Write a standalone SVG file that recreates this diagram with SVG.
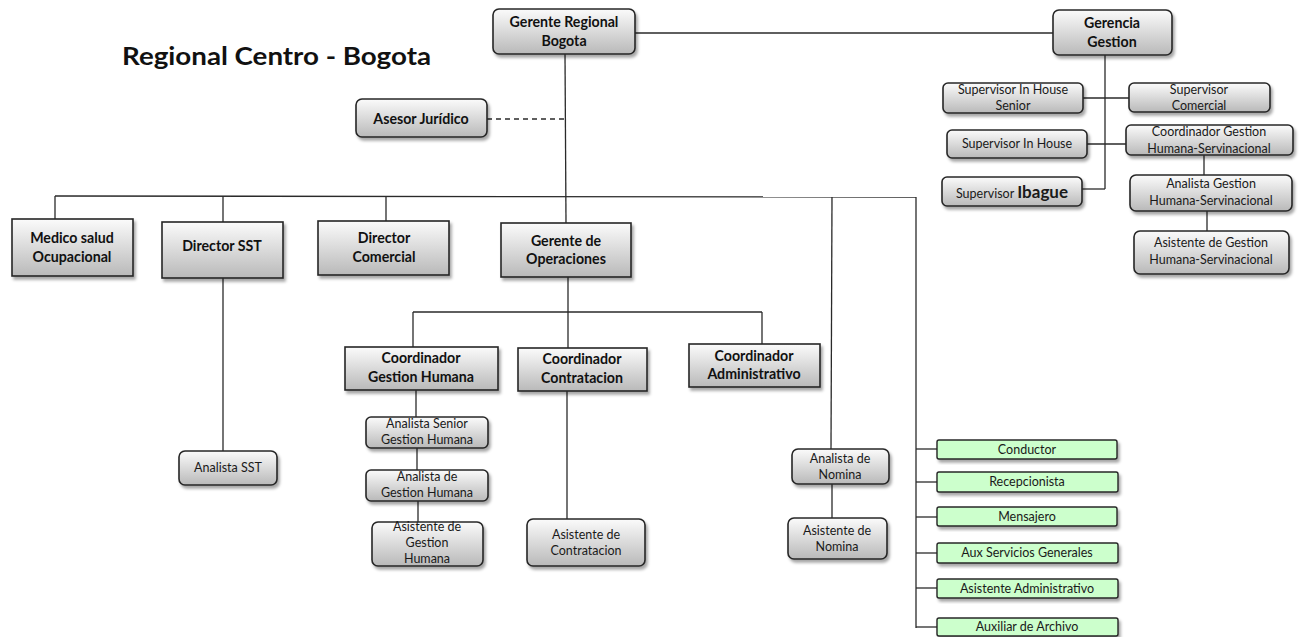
<svg xmlns="http://www.w3.org/2000/svg" width="1300" height="637" viewBox="0 0 1300 637">
<defs>
<linearGradient id="g" x1="0" y1="0" x2="0" y2="1">
<stop offset="0" stop-color="#fbfbfb"/>
<stop offset="1" stop-color="#b9b9b9"/>
</linearGradient>
<filter id="sh" x="-10%" y="-20%" width="125%" height="150%">
<feDropShadow dx="2" dy="3" stdDeviation="1.8" flood-color="#000" flood-opacity="0.35"/>
</filter>
<style>
.b{fill:url(#g);stroke:#262626;stroke-width:1.6;filter:url(#sh)}
.gr{fill:#ccffcc;stroke:#262626;stroke-width:1.4;filter:url(#sh)}
.t{font-family:Lato,"Liberation Sans",sans-serif;font-weight:bold;font-size:14.2px;fill:#111;text-anchor:middle}
.s{font-family:Lato,"Liberation Sans",sans-serif;font-size:12.5px;fill:#1a1a1a;text-anchor:middle}
.c line,.c path{stroke:#2a2a2a;stroke-width:1.3;fill:none}
.title{font-family:Lato,"Liberation Sans",sans-serif;font-weight:bold;font-size:25px;fill:#111}
</style>
</defs>
<rect width="1300" height="637" fill="#fff"/>
<text class="title" x="122" y="65" textLength="309" lengthAdjust="spacingAndGlyphs">Regional Centro - Bogota</text>

<g class="c" id="connectors">
<line x1="635" y1="33" x2="1053" y2="33"/>
<line x1="565" y1="54" x2="566" y2="223"/>
<line x1="487" y1="119" x2="565" y2="119" stroke-dasharray="5,4"/>
<line x1="55" y1="196" x2="916" y2="197"/>
<line x1="55" y1="196" x2="55" y2="219"/>
<line x1="223" y1="196" x2="223" y2="222"/>
<line x1="386" y1="197" x2="386" y2="221"/>
<line x1="832" y1="197" x2="831" y2="449"/>
<line x1="916" y1="197" x2="916" y2="628"/>
<line x1="223" y1="278" x2="223" y2="451"/>
<line x1="568" y1="277" x2="568" y2="348"/>
<line x1="413" y1="312" x2="762" y2="312"/>
<line x1="413" y1="312" x2="413" y2="347"/>
<line x1="762" y1="312" x2="762" y2="344"/>
<line x1="416" y1="390" x2="416" y2="417"/>
<line x1="417" y1="448" x2="417" y2="470"/>
<line x1="418" y1="501" x2="418" y2="522"/>
<line x1="567" y1="391" x2="567" y2="519"/>
<line x1="832" y1="484" x2="832" y2="518"/>
<line x1="916" y1="449" x2="937" y2="449"/>
<line x1="916" y1="482" x2="937" y2="482"/>
<line x1="916" y1="517" x2="937" y2="517"/>
<line x1="916" y1="553" x2="937" y2="553"/>
<line x1="916" y1="588" x2="937" y2="588"/>
<line x1="916" y1="627" x2="937" y2="627"/>
<line x1="1105" y1="55" x2="1105" y2="189"/>
<line x1="1082" y1="189" x2="1105" y2="189"/>
<line x1="1083" y1="98" x2="1129" y2="98"/>
<line x1="1087" y1="144" x2="1126" y2="144"/>
<line x1="1204" y1="155" x2="1204" y2="175"/>
<line x1="1207" y1="211" x2="1207" y2="231"/>
</g>

<g id="gerente-regional"><rect class="b" x="493" y="9" width="142" height="45" rx="6"/><text class="t" x="564" y="26.5">Gerente Regional</text><text class="t" x="564" y="45.5">Bogota</text></g>
<g id="gerencia-gestion"><rect class="b" x="1053" y="10" width="119" height="45" rx="6"/><text class="t" x="1112" y="27.5">Gerencia</text><text class="t" x="1112" y="46.5">Gestion</text></g>
<g id="asesor"><rect class="b" x="356" y="99" width="131" height="38" rx="6"/><text class="t" x="421" y="123.5">Asesor Jurídico</text></g>

<g id="medico"><rect class="b" x="12" y="219" width="121" height="57"/><text class="t" x="72" y="242.5">Medico salud</text><text class="t" x="72" y="261.5">Ocupacional</text></g>
<g id="director-sst"><rect class="b" x="162" y="222" width="121" height="56"/><text class="t" x="222" y="251">Director SST</text></g>
<g id="director-comercial"><rect class="b" x="318" y="221" width="131" height="54"/><text class="t" x="384" y="242.5">Director</text><text class="t" x="384" y="261.5">Comercial</text></g>
<g id="gerente-operaciones"><rect class="b" x="501" y="223" width="130" height="54"/><text class="t" x="566" y="245.5">Gerente de</text><text class="t" x="566" y="263.5">Operaciones</text></g>

<g id="coord-gh"><rect class="b" x="345" y="347" width="153" height="43"/><text class="t" x="421" y="362.5">Coordinador</text><text class="t" x="421" y="381.5">Gestion Humana</text></g>
<g id="coord-contratacion"><rect class="b" x="518" y="348" width="129" height="43"/><text class="t" x="582" y="363.5">Coordinador</text><text class="t" x="582" y="382.5">Contratacion</text></g>
<g id="coord-admin"><rect class="b" x="689" y="344" width="131" height="43"/><text class="t" x="754" y="360.5">Coordinador</text><text class="t" x="754" y="378.5">Administrativo</text></g>

<g id="analista-senior-gh"><rect class="b" x="366" y="417" width="122" height="31" rx="5"/><text class="s" x="427" y="428">Analista Senior</text><text class="s" x="427" y="444">Gestion Humana</text></g>
<g id="analista-gh"><rect class="b" x="366" y="470" width="122" height="31" rx="5"/><text class="s" x="427" y="481">Analista de</text><text class="s" x="427" y="497">Gestion Humana</text></g>
<g id="asistente-gh"><rect class="b" x="372" y="522" width="111" height="44" rx="6"/><text class="s" x="427" y="531">Asistente de</text><text class="s" x="427" y="547">Gestion</text><text class="s" x="427" y="563">Humana</text></g>
<g id="asistente-contratacion"><rect class="b" x="527" y="519" width="118" height="47" rx="6"/><text class="s" x="586" y="539">Asistente de</text><text class="s" x="586" y="555">Contratacion</text></g>
<g id="analista-sst"><rect class="b" x="179" y="451" width="98" height="34" rx="6"/><text class="s" x="228" y="472">Analista SST</text></g>
<g id="analista-nomina"><rect class="b" x="792" y="449" width="97" height="35" rx="6"/><text class="s" x="840" y="463">Analista de</text><text class="s" x="840" y="479">Nomina</text></g>
<g id="asistente-nomina"><rect class="b" x="788" y="518" width="99" height="41" rx="6"/><text class="s" x="837" y="535">Asistente de</text><text class="s" x="837" y="551">Nomina</text></g>

<g id="conductor"><rect class="gr" x="937" y="440" width="180" height="19" rx="2"/><text class="s" x="1027" y="453.5">Conductor</text></g>
<g id="recepcionista"><rect class="gr" x="937" y="472" width="181" height="20" rx="2"/><text class="s" x="1027" y="486">Recepcionista</text></g>
<g id="mensajero"><rect class="gr" x="937" y="507" width="180" height="19" rx="2"/><text class="s" x="1027" y="520.5">Mensajero</text></g>
<g id="aux-servicios"><rect class="gr" x="937" y="543" width="181" height="20" rx="2"/><text class="s" x="1027" y="557">Aux Servicios Generales</text></g>
<g id="asistente-admin"><rect class="gr" x="937" y="579" width="181" height="19" rx="2"/><text class="s" x="1027" y="592.5">Asistente Administrativo</text></g>
<g id="auxiliar-archivo"><rect class="gr" x="937" y="618" width="181" height="18" rx="2"/><text class="s" x="1027" y="631">Auxiliar de Archivo</text></g>

<g id="sup-inhouse-senior"><rect class="b" x="943" y="83" width="140" height="30" rx="5"/><text class="s" x="1013" y="94">Supervisor In House</text><text class="s" x="1013" y="110">Senior</text></g>
<g id="sup-comercial"><rect class="b" x="1129" y="83" width="141" height="29" rx="5"/><text class="s" x="1199" y="94">Supervisor</text><text class="s" x="1199" y="110">Comercial</text></g>
<g id="sup-inhouse"><rect class="b" x="947" y="130" width="140" height="28" rx="5"/><text class="s" x="1017" y="148">Supervisor In House</text></g>
<g id="coord-ghs"><rect class="b" x="1126" y="125" width="167" height="30" rx="5"/><text class="s" x="1209" y="136">Coordinador Gestion</text><text class="s" x="1209" y="153">Humana-Servinacional</text></g>
<g id="sup-ibague"><rect class="b" x="942" y="177" width="140" height="29" rx="5"/><text class="s" x="1012" y="198"><tspan>Supervisor </tspan><tspan style="font-size:17px;font-weight:bold">Ibague</tspan></text></g>
<g id="analista-ghs"><rect class="b" x="1130" y="175" width="162" height="36" rx="6"/><text class="s" x="1211" y="188">Analista Gestion</text><text class="s" x="1211" y="205">Humana-Servinacional</text></g>
<g id="asistente-ghs"><rect class="b" x="1134" y="231" width="155" height="43" rx="6"/><text class="s" x="1211" y="247">Asistente de Gestion</text><text class="s" x="1211" y="264">Humana-Servinacional</text></g>
</svg>
